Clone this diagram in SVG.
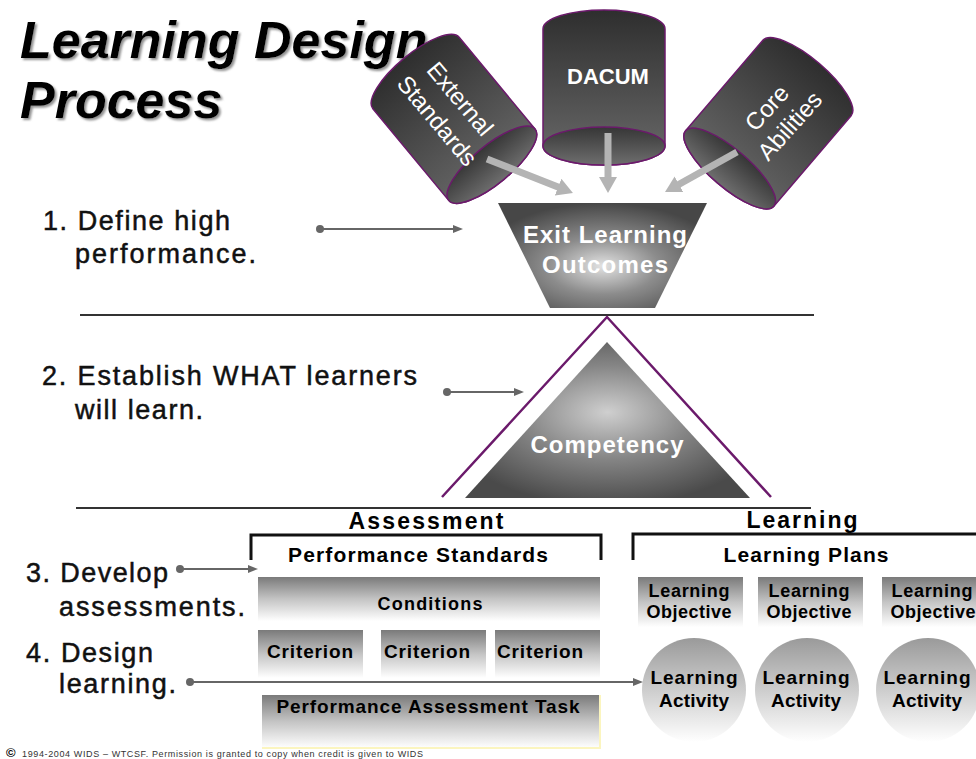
<svg xmlns="http://www.w3.org/2000/svg" width="976" height="759" viewBox="0 0 976 759">
<defs>
<style>
text{font-family:"Liberation Sans",Arial,sans-serif}
.title{font-size:52px;font-weight:bold;font-style:italic;fill:#000}
.step{font-size:27px;fill:#111;stroke:#111;stroke-width:0.5}
.wt{fill:#fff;font-weight:bold;text-anchor:middle}
.cyl-t{fill:#fff;font-size:24px;text-anchor:middle}
.bk{fill:#000;font-weight:bold;text-anchor:middle}
.outline{stroke:#6b1a6b;stroke-width:1.5}
.rule{stroke:#333;stroke-width:2}
.brk{fill:none;stroke:#111;stroke-width:3}
.feed{stroke:#b4b4b4;stroke-width:7;marker-end:url(#bigHead)}
.conn{stroke:#666;stroke-width:2;fill:none;marker-start:url(#dot);marker-end:url(#head)}
</style>
<linearGradient id="gBody" x1="0" y1="0" x2="0" y2="1">
<stop offset="0" stop-color="#2e2e2e"/><stop offset="1" stop-color="#6a6a6a"/>
</linearGradient>
<linearGradient id="gFace" x1="0" y1="0" x2="0" y2="1">
<stop offset="0" stop-color="#363636"/><stop offset="1" stop-color="#6e6e6e"/>
</linearGradient>
<radialGradient id="gFunnel" cx="0.5" cy="0.6" r="0.6">
<stop offset="0" stop-color="#e2e2e2"/><stop offset="0.45" stop-color="#8c8c8c"/><stop offset="1" stop-color="#474747"/>
</radialGradient>
<radialGradient id="gTri" cx="0.5" cy="0.45" r="0.6">
<stop offset="0" stop-color="#cfcfcf"/><stop offset="0.5" stop-color="#858585"/><stop offset="1" stop-color="#4a4a4a"/>
</radialGradient>
<linearGradient id="gBox" x1="0" y1="0" x2="0" y2="1">
<stop offset="0" stop-color="#7a7a7a"/><stop offset="0.5" stop-color="#c4c4c4"/><stop offset="1" stop-color="#ffffff"/>
</linearGradient>
<linearGradient id="gCirc" x1="0" y1="0" x2="0" y2="1">
<stop offset="0" stop-color="#9a9a9a"/><stop offset="0.55" stop-color="#d2d2d2"/><stop offset="1" stop-color="#ffffff"/>
</linearGradient>
<marker id="bigHead" markerUnits="userSpaceOnUse" markerWidth="16" markerHeight="18" refX="4" refY="9" orient="auto">
<path d="M0,0 L16,9 L0,18 Z" fill="#b4b4b4"/>
</marker>
<marker id="head" markerUnits="userSpaceOnUse" markerWidth="10" markerHeight="8" refX="2" refY="4" orient="auto">
<path d="M0,0 L10,4 L0,8 Z" fill="#666"/>
</marker>
<marker id="dot" markerUnits="userSpaceOnUse" markerWidth="10" markerHeight="10" refX="5" refY="5" orient="auto">
<circle cx="5" cy="5" r="4" fill="#666"/>
</marker>
<filter id="shadow" x="-5%" y="-20%" width="110%" height="140%">
<feDropShadow dx="2" dy="2" stdDeviation="1" flood-color="#777" flood-opacity="0.8"/>
</filter>
</defs>
<rect width="976" height="759" fill="#fff"/>

<g id="title" filter="url(#shadow)">
<text class="title" x="20" y="58">Learning Design</text>
<text class="title" x="20" y="118">Process</text>
</g>

<g id="steps">
<text class="step" x="43" y="230" textLength="187">1. Define high</text>
<text class="step" x="75" y="263" textLength="181">performance.</text>
<text class="step" x="42" y="385" textLength="375">2. Establish WHAT learners</text>
<text class="step" x="75" y="419" textLength="128">will learn.</text>
<text class="step" x="26" y="582" textLength="142">3. Develop</text>
<text class="step" x="59" y="616" textLength="186">assessments.</text>
<text class="step" x="26" y="662" textLength="127">4. Design</text>
<text class="step" x="59" y="693" textLength="117">learning.</text>
</g>

<g id="rules">
<line class="rule" x1="80" y1="315" x2="814" y2="315"/>
<line class="rule" x1="76" y1="508" x2="811" y2="508"/>
</g>

<g id="external-standards">
<g transform="translate(416,73) rotate(-39.6)">
<path class="outline" fill="url(#gBody)" d="M-56,0 A56,19 0 0 1 56,0 L56,119 A56,19 0 0 1 -56,119 Z"/>
<ellipse class="outline" fill="url(#gFace)" cx="0" cy="119" rx="56" ry="19"/>
</g>
<text class="cyl-t" transform="translate(460,99) rotate(50)" y="8">External</text>
<text class="cyl-t" transform="translate(437,121) rotate(50)" y="8">Standards</text>
</g>

<g id="dacum">
<g transform="translate(604,29)">
<path class="outline" fill="url(#gBody)" d="M-61,0 A61,19 0 0 1 61,0 L61,117 A61,19 0 0 1 -61,117 Z"/>
<ellipse class="outline" fill="url(#gFace)" cx="0" cy="117" rx="61" ry="19"/>
</g>
<text class="wt" x="608" y="84" font-size="22">DACUM</text>
</g>

<g id="core-abilities">
<g transform="translate(807,78) rotate(40.5)">
<path class="outline" fill="url(#gBody)" d="M-58,0 A58,19 0 0 1 58,0 L58,119 A58,19 0 0 1 -58,119 Z"/>
<ellipse class="outline" fill="url(#gFace)" cx="0" cy="119" rx="58" ry="19"/>
</g>
<text class="cyl-t" transform="translate(767,108) rotate(-48)" y="8">Core</text>
<text class="cyl-t" transform="translate(790,126) rotate(-48)" y="8">Abilities</text>
</g>

<g id="exit-outcomes">
<polygon points="498,203 707,203 655,308 550,308" fill="url(#gFunnel)"/>
<text class="wt" x="605" y="243" font-size="24" textLength="164">Exit Learning</text>
<text class="wt" x="605" y="273" font-size="24" textLength="126">Outcomes</text>
</g>

<g id="competency">
<polyline points="442,497 607,317 771,497" fill="none" stroke="#6b1a6b" stroke-width="2.5"/>
<polygon points="607,342 750,498 465,498" fill="url(#gTri)"/>
<text class="wt" x="607" y="453" font-size="24" textLength="153">Competency</text>
</g>

<g id="assessment">
<text class="bk" x="426" y="529" font-size="23" textLength="155">Assessment</text>
<polyline class="brk" points="251,560 251,535 601,535 601,560"/>
<text class="bk" x="418" y="562" font-size="21" textLength="260">Performance Standards</text>
</g>

<g id="conditions">
<rect x="258" y="577" width="342" height="44" fill="url(#gBox)"/>
<text class="bk" x="430" y="610" font-size="18" textLength="105">Conditions</text>
</g>
<g id="criterion-1">
<rect x="258" y="630" width="105" height="48" fill="url(#gBox)"/>
<text class="bk" x="310" y="658" font-size="19" textLength="86">Criterion</text>
</g>
<g id="criterion-2">
<rect x="381" y="630" width="105" height="48" fill="url(#gBox)"/>
<text class="bk" x="427" y="658" font-size="19" textLength="86">Criterion</text>
</g>
<g id="criterion-3">
<rect x="495" y="630" width="105" height="48" fill="url(#gBox)"/>
<text class="bk" x="540" y="658" font-size="19" textLength="86">Criterion</text>
</g>
<g id="assessment-task">
<rect x="262" y="695" width="338" height="53" fill="url(#gBox)"/>
<polyline points="600,695 600,748 262,748" fill="none" stroke="#fbf5bf" stroke-width="2"/>
<text class="bk" x="428" y="713" font-size="19" textLength="303">Performance Assessment Task</text>
</g>

<g id="learning">
<text class="bk" x="802" y="528" font-size="23" textLength="111">Learning</text>
<polyline class="brk" points="633,560 633,534 980,534"/>
<text class="bk" x="806" y="562" font-size="21" textLength="165">Learning Plans</text>
</g>

<g id="objective-1">
<rect x="638" y="577" width="105" height="50" fill="url(#gBox)"/>
<text class="bk" x="689" y="597" font-size="18" textLength="81">Learning</text>
<text class="bk" x="689" y="618" font-size="18" textLength="85">Objective</text>
</g>
<g id="objective-2">
<rect x="758" y="577" width="105" height="50" fill="url(#gBox)"/>
<text class="bk" x="809" y="597" font-size="18" textLength="81">Learning</text>
<text class="bk" x="809" y="618" font-size="18" textLength="85">Objective</text>
</g>
<g id="objective-3">
<rect x="882" y="577" width="105" height="50" fill="url(#gBox)"/>
<text class="bk" x="932" y="597" font-size="18" textLength="81">Learning</text>
<text class="bk" x="933" y="618" font-size="18" textLength="85">Objective</text>
</g>

<g id="activity-1">
<circle cx="694" cy="690" r="52" fill="url(#gCirc)"/>
<text class="bk" x="694" y="684" font-size="19" textLength="87">Learning</text>
<text class="bk" x="694" y="707" font-size="19" textLength="70">Activity</text>
</g>
<g id="activity-2">
<circle cx="807" cy="690" r="52" fill="url(#gCirc)"/>
<text class="bk" x="806" y="684" font-size="19" textLength="87">Learning</text>
<text class="bk" x="806" y="707" font-size="19" textLength="70">Activity</text>
</g>
<g id="activity-3">
<circle cx="928" cy="690" r="52" fill="url(#gCirc)"/>
<text class="bk" x="927" y="684" font-size="19" textLength="87">Learning</text>
<text class="bk" x="927" y="707" font-size="19" textLength="70">Activity</text>
</g>

<g id="connectors">
<line class="feed" x1="487" y1="159" x2="561.8" y2="188.6"/>
<line class="feed" x1="608" y1="133" x2="608" y2="181"/>
<line class="feed" x1="737" y1="152" x2="675.5" y2="186.2"/>
<line class="conn" x1="320" y1="229" x2="455" y2="229"/>
<line class="conn" x1="447" y1="392" x2="516" y2="392"/>
<line class="conn" x1="180" y1="569" x2="250" y2="569"/>
<line class="conn" x1="190" y1="682" x2="635" y2="682"/>
</g>

<g id="footer">
<text x="6" y="757" font-size="13" font-weight="bold" fill="#000">©</text>
<text x="22" y="757" font-size="9" fill="#333" textLength="401">1994-2004 WIDS – WTCSF. Permission is granted to copy when credit is given to WIDS</text>
</g>
</svg>
